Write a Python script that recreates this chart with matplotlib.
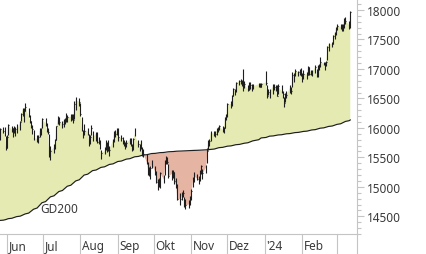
import pandas as pd
import matplotlib
matplotlib.use("Agg")
from matplotlib import pyplot as plt
import matplotlib.dates as mdates
from matplotlib.ticker import MultipleLocator

# Handelstage 26.05.2023 - 12.03.2024
tage = pd.bdate_range("2023-05-26", "2024-03-12")
tage = tage.drop(pd.to_datetime(["2023-12-25", "2023-12-26", "2024-01-01"]))

schluss = [15984, 15952, 15909, 15664,
           15853, 16051, 15964, 15993, 15960, 15989, 15949, 16098, 16231, 16310, 16290, 16358, 16201, 16111, 16023, 15988, 15830, 15813, 15846, 15949, 15946, 16148,
           16081, 15938, 15938, 15528, 15603, 15673, 15791, 16024, 16141, 16105, 16068, 16125, 16109, 16204, 16177, 16191, 16211, 16131, 16406, 16469, 16446,
           16240, 16020, 15893, 15952, 15950, 15775, 15852, 15997, 15832, 15904, 15768, 15789, 15676, 15574, 15603, 15723, 15729, 15621, 15632, 15792, 15931, 15891, 15947,
           15840, 15825, 15772, 15741, 15718, 15740, 15800, 15715, 15654, 15806, 15894, 15727, 15665, 15782, 15572, 15557, 15405, 15256, 15217, 15323, 15387,
           15247, 15085, 15100, 15070, 15229, 15128, 15423, 15460, 15425, 15187, 15237, 15252, 15095, 15045, 14798, 14800, 14880, 14892, 14731, 14687, 14716, 14810,
           14923, 15143, 15189, 15136, 15153, 15229, 15353, 15234, 15345, 15615, 15748, 15786, 15919, 15901, 15900, 15957, 15994, 16029, 15966, 15992, 16166, 16215,
           16398, 16405, 16533, 16656, 16629, 16759, 16794, 16791, 16766, 16687, 16751, 16650, 16744, 16733, 16687, 16706, 16742, 16701, 16752,
           16769, 16538, 16617, 16594, 16716, 16688, 16689, 16547, 16704, 16622, 16572, 16431, 16567, 16555, 16683, 16627, 16890, 16907, 16961, 16942, 16972, 16904,
           16859, 16918, 16904, 17033, 16922, 16963, 16927, 17037, 16880, 17047, 17046, 17117, 17092, 17068, 17118, 17370, 17419, 17423, 17556, 17601, 17678,
           17735, 17716, 17698, 17716, 17843, 17815, 17746, 17965]

hoch = [16000, 16010, 16020, 15870,
        15880, 16070, 16040, 16000, 16030, 16010, 16060, 16110, 16250, 16330, 16330, 16430, 16330, 16220, 16120, 16050, 15960, 15880, 15880, 15990, 15990, 16170,
        16170, 16090, 16000, 15900, 15700, 15720, 15820, 16040, 16200, 16180, 16120, 16150, 16170, 16250, 16220, 16230, 16240, 16240, 16450, 16530, 16500,
        16430, 16190, 15970, 16070, 15990, 15900, 15880, 16050, 15950, 15930, 15930, 15850, 15800, 15620, 15680, 15800, 15760, 15790, 15700, 15810, 15940, 15970, 16000,
        15990, 15880, 15850, 15790, 15760, 15800, 15830, 15830, 15720, 15830, 15990, 15800, 15720, 15800, 15680, 15650, 15560, 15420, 15330, 15360, 15450,
        15360, 15270, 15130, 15150, 15260, 15200, 15450, 15520, 15500, 15380, 15280, 15290, 15250, 15150, 15050, 14900, 14920, 14940, 14820, 14800, 14770, 14850,
        14960, 15160, 15250, 15210, 15180, 15280, 15370, 15300, 15370, 15660, 15790, 15810, 15940, 15950, 15940, 16000, 16010, 16050, 16040, 16020, 16190, 16240,
        16420, 16450, 16560, 16680, 16660, 16780, 16820, 16830, 16820, 17000, 16800, 16730, 16780, 16780, 16740, 16740, 16760, 16760, 16770,
        16960, 16730, 16660, 16660, 16740, 16740, 16720, 16720, 16740, 16720, 16630, 16520, 16600, 16620, 16720, 16700, 16950, 16930, 17000, 16960, 17000, 17010,
        16930, 16980, 16950, 17050, 17030, 16990, 16990, 17060, 17000, 17070, 17080, 17200, 17120, 17110, 17140, 17390, 17440, 17450, 17570, 17620, 17710,
        17760, 17760, 17770, 17770, 17870, 17880, 17820, 17980]

tief = [15800, 15920, 15870, 15630,
        15660, 15880, 15930, 15850, 15920, 15870, 15920, 15960, 16110, 16200, 16100, 16280, 16190, 16080, 15990, 15900, 15800, 15760, 15740, 15840, 15880, 15990,
        16030, 15930, 15890, 15500, 15460, 15570, 15650, 15800, 16070, 16050, 16000, 16010, 16070, 16100, 16100, 16110, 16140, 16080, 16150, 16300, 16380,
        16200, 15940, 15830, 15880, 15880, 15690, 15720, 15880, 15780, 15770, 15750, 15720, 15640, 15470, 15550, 15620, 15590, 15600, 15520, 15670, 15760, 15850, 15880,
        15780, 15780, 15720, 15690, 15650, 15680, 15730, 15690, 15600, 15630, 15860, 15680, 15600, 15650, 15530, 15510, 15380, 15200, 15180, 15140, 15320,
        15200, 15060, 14950, 15000, 14980, 15060, 15200, 15380, 15390, 15150, 15120, 15150, 15050, 14980, 14780, 14690, 14770, 14820, 14660, 14630, 14640, 14690,
        14770, 14990, 15090, 15110, 15040, 15100, 15210, 15140, 15230, 15400, 15630, 15700, 15780, 15860, 15850, 15880, 15930, 15970, 15930, 15920, 15990, 16130,
        16180, 16330, 16380, 16540, 16560, 16610, 16730, 16740, 16710, 16620, 16680, 16620, 16650, 16660, 16630, 16660, 16690, 16690, 16690,
        16720, 16510, 16560, 16500, 16570, 16640, 16620, 16540, 16580, 16600, 16500, 16350, 16440, 16510, 16600, 16570, 16700, 16780, 16880, 16880, 16890, 16880,
        16780, 16830, 16830, 16890, 16890, 16890, 16880, 16930, 16860, 16870, 16980, 17040, 17060, 16990, 17050, 17160, 17300, 17370, 17420, 17500, 17570,
        17660, 17670, 17640, 17650, 17700, 17770, 17680, 17700]

gd200 = [14430, 14435, 14440, 14445,
         14452, 14460, 14467, 14474, 14481, 14488, 14495, 14503, 14512, 14521, 14530, 14540, 14555, 14571, 14588, 14604, 14620, 14641, 14663, 14685, 14707, 14730,
         14750, 14770, 14790, 14810, 14830, 14848, 14866, 14884, 14902, 14920, 14938, 14956, 14974, 14992, 15010, 15028, 15046, 15064, 15082, 15100, 15120,
         15140, 15160, 15180, 15200, 15215, 15230, 15245, 15260, 15275, 15286, 15297, 15308, 15319, 15330, 15340, 15350, 15360, 15370, 15380, 15390, 15400, 15410, 15420,
         15430, 15438, 15446, 15454, 15462, 15470, 15478, 15486, 15494, 15502, 15510, 15516, 15522, 15528, 15534, 15540, 15545, 15550, 15555, 15560, 15565,
         15568, 15571, 15574, 15577, 15580, 15583, 15586, 15589, 15592, 15595, 15597, 15599, 15601, 15603, 15605, 15606, 15608, 15609, 15611, 15612, 15613, 15614,
         15615, 15617, 15618, 15619, 15621, 15622, 15624, 15625, 15627, 15629, 15631, 15633, 15635, 15641, 15647, 15653, 15659, 15665, 15670, 15675, 15680, 15685,
         15690, 15695, 15700, 15705, 15710, 15715, 15720, 15725, 15730, 15735, 15740, 15748, 15756, 15764, 15772, 15780, 15800, 15815, 15830,
         15838, 15845, 15852, 15860, 15864, 15868, 15872, 15876, 15880, 15884, 15888, 15892, 15896, 15900, 15904, 15908, 15912, 15916, 15920, 15924, 15928, 15932,
         15936, 15940, 15945, 15950, 15955, 15960, 15965, 15971, 15977, 15983, 15989, 15995, 16001, 16007, 16013, 16019, 16025, 16032, 16039, 16046, 16053,
         16060, 16070, 16080, 16090, 16100, 16110, 16122, 16135]

monate = ["2023-06-01", "2023-07-01", "2023-08-01", "2023-09-01", "2023-10-01",
          "2023-11-01", "2023-12-01", "2024-01-01", "2024-02-01", "2024-03-01"]
monat_namen = ["Jun", "Jul", "Aug", "Sep", "Okt", "Nov", "Dez", "'24", "Feb", ""]

gelb = "#e5eab2"
lachs = "#e6b4a3"
grau = "#c4c4c4"
text_farbe = "#3a3a3a"

plt.rcParams['font.family'] = ['Noto Sans', 'DejaVu Sans']

x = mdates.date2num(tage)
fig = plt.figure(figsize=(4.26, 2.55), dpi=100)
ax = fig.add_axes([0, 1 - 235 / 255, 357 / 426, 235 / 255])

oben = [s >= g for s, g in zip(schluss, gd200)]
unten = [s < g for s, g in zip(schluss, gd200)]
ax.fill_between(x, schluss, gd200, where=oben, interpolate=True, color=gelb, lw=0, zorder=1)
ax.fill_between(x, schluss, gd200, where=unten, interpolate=True, color=lachs, lw=0, zorder=1)
ax.plot(x, gd200, color="#1e1e1e", lw=0.85, zorder=2)

# OHLC-Balken (Hoch-Tief plus Schlusskurs-Strich)
ax.vlines(x, tief, hoch, color="#1e1e1e", lw=0.8, zorder=3)
ax.hlines(schluss, x, x + 0.6, color="#1e1e1e", lw=0.8, zorder=3)

ax.text(mdates.date2num(pd.Timestamp("2023-06-29")), 14640, "GD200", fontsize=8.5,
        color=text_farbe, ha="left", va="center", zorder=4)

ax.set_xlim(mdates.date2num(pd.Timestamp("2023-05-26 04:00")),
            mdates.date2num(pd.Timestamp("2024-03-17 14:00")))
ax.set_ylim(14200, 18187)

for s in ["top", "left"]:
    ax.spines[s].set_visible(False)
ax.spines["bottom"].set_color(grau)
ax.spines["right"].set_color(grau)

ax.yaxis.tick_right()
ax.yaxis.set_major_locator(MultipleLocator(500))
ax.yaxis.set_minor_locator(MultipleLocator(100))
ax.tick_params(axis="y", which="major", length=4.8, width=0.8, color=grau, pad=2,
               labelsize=8.5, labelcolor=text_farbe)
ax.tick_params(axis="y", which="minor", length=2.9, width=0.8, color=grau)
ax.set_yticks([14500, 15000, 15500, 16000, 16500, 17000, 17500, 18000])

# Monatstrenner unter der Achse
monat_x = [mdates.date2num(pd.Timestamp(m)) for m in monate]
ax.set_xticks(monat_x)
ax.tick_params(axis="x", which="major", direction="out", length=14.4, width=0.8,
               color=grau, labelbottom=False)
for mx, name in zip(monat_x, monat_namen):
    ax.annotate(name, xy=(mx, 0), xycoords=("data", "axes fraction"),
                xytext=(1.5, -12), textcoords="offset pixels", ha="left", va="center",
                fontsize=8.5, color=text_farbe, annotation_clip=False)
ax.plot([1, 1], [0, -20 / 235], transform=ax.transAxes, color=grau, lw=0.8, clip_on=False)

fig.savefig("out.png", dpi=100)
